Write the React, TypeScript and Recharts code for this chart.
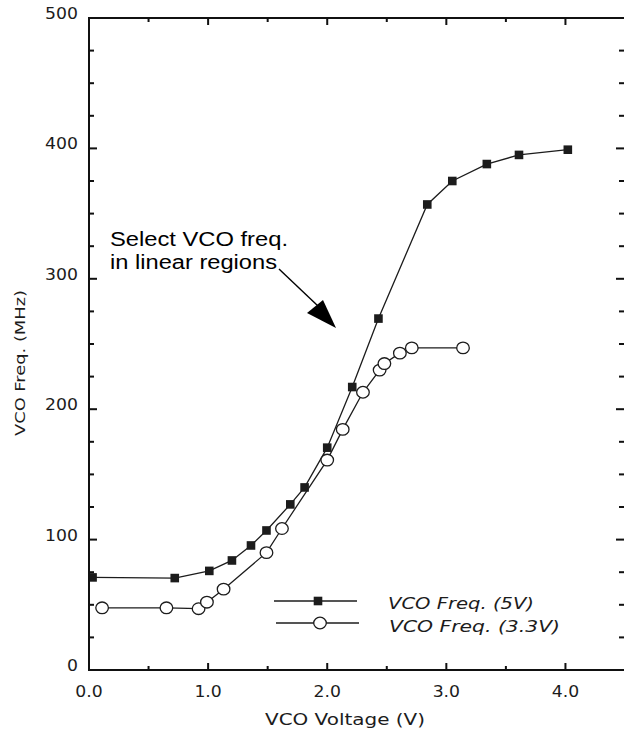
import React from "react";
import { LineChart, Line, XAxis, YAxis } from "recharts";

// VCO frequency vs. control voltage.
const VOLT_5V = [0.03, 0.72, 1.01, 1.2, 1.36, 1.49, 1.69, 1.81, 2.0, 2.21, 2.43, 2.84, 3.05, 3.34, 3.61, 4.02];
const FREQ_5V = [71, 70.5, 76, 84, 95.5, 107, 127, 140, 170.5, 217, 269.5, 357, 375, 388, 395, 399];

const VOLT_33V = [0.11, 0.65, 0.92, 0.99, 1.13, 1.49, 1.62, 2.0, 2.13, 2.3, 2.44, 2.48, 2.61, 2.71, 3.14];
const FREQ_33V = [47.7, 47.7, 47, 52, 62, 90, 108.5, 161, 184.5, 213, 230, 235, 243, 247, 247];

const X_TICKS = [0, 0.5, 1, 1.5, 2, 2.5, 3, 3.5, 4, 4.5];
const Y_TICKS = [0, 25, 50, 75, 100, 125, 150, 175, 200, 225, 250, 275, 300, 325, 350, 375, 400, 425, 450, 475, 500];

const SERIES_NAMES = ["VCO Freq. (5V)", "VCO Freq. (3.3V)"];

const data5v = VOLT_5V.map((x, i) => ({ x, y: FREQ_5V[i] }));
const data33v = VOLT_33V.map((x, i) => ({ x, y: FREQ_33V[i] }));

const X_DOMAIN: [number, number] = [0, 4.5];
const Y_DOMAIN: [number, number] = [0, 500];

// plot box shared by the chart margins and the frame overlay
const PLOT = { left: 89, top: 18, width: 536, height: 652 };
const CHART_W = PLOT.left + PLOT.width;
const CHART_H = 729;

const INK = "#1c1c1c";
const FONT = "'DejaVu Sans', sans-serif";

const isMajorX = (v: number) => Math.abs(v - Math.round(v)) < 1e-6;
const isMajorY = (v: number) => v % 100 === 0;

// tickSize/tickMargin are 0, so x/y arrive on the axis line
const bottomTick = (props: any) => {
  const { x, y, payload } = props;
  const v = Number(payload.value);
  if (!isMajorX(v)) return <g />;
  return (
    <g transform={`translate(${x},${y})`}>
      <text transform="translate(0,27) scale(1.15,1)" textAnchor="middle" fontFamily={FONT} fontSize={15} fill={INK}>
        {v.toFixed(1)}
      </text>
    </g>
  );
};

const leftTick = (props: any) => {
  const { x, y, payload } = props;
  const v = Number(payload.value);
  if (!isMajorY(v)) return <g />;
  return (
    <g transform={`translate(${x},${y})`}>
      <text transform="translate(-11,1) scale(1.15,1)" textAnchor="end" fontFamily={FONT} fontSize={15} fill={INK}>
        {v}
      </text>
    </g>
  );
};

function SquareDot({ cx, cy }: any) {
  if (cx == null || cy == null) return null;
  return <rect x={cx - 4.3} y={cy - 4.3} width={8.6} height={8.6} fill={INK} />;
}

function CircleDot({ cx, cy }: any) {
  if (cx == null || cy == null) return null;
  return <ellipse cx={cx} cy={cy} rx={6.3} ry={5.8} fill="#fff" stroke={INK} strokeWidth={1.3} />;
}

const px = (v: number) => PLOT.left + ((v - X_DOMAIN[0]) / (X_DOMAIN[1] - X_DOMAIN[0])) * PLOT.width;
const py = (v: number) => PLOT.top + PLOT.height - ((v - Y_DOMAIN[0]) / (Y_DOMAIN[1] - Y_DOMAIN[0])) * PLOT.height;

// box frame with inward tick marks on all four sides
function Frame() {
  const right = PLOT.left + PLOT.width;
  const bottom = PLOT.top + PLOT.height;
  return (
    <g fill="#111">
      <rect x={PLOT.left - 1} y={PLOT.top - 1} width={PLOT.width + 1} height={2} />
      <rect x={PLOT.left - 1} y={PLOT.top - 1} width={2} height={PLOT.height + 2} />
      <rect x={PLOT.left - 1} y={bottom - 1} width={PLOT.width + 1} height={2} />
      {X_TICKS.map((t) => {
        const len = isMajorX(t) ? 7 : 4;
        return (
          <g key={`x${t}`}>
            <rect x={px(t) - 1} y={bottom - len} width={2} height={len} />
            <rect x={px(t) - 1} y={PLOT.top} width={2} height={len} />
          </g>
        );
      })}
      {Y_TICKS.map((t) => {
        const len = isMajorY(t) ? 8 : 5;
        return (
          <g key={`y${t}`}>
            <rect x={PLOT.left} y={py(t) - 1} width={len} height={2} />
            <rect x={right - len - 1} y={py(t) - 1} width={len} height={2} />
          </g>
        );
      })}
    </g>
  );
}

function Overlay() {
  return (
    <svg width={624} height={729} style={{ position: "absolute", left: 0, top: 0, pointerEvents: "none" }}>
      <Frame />

      {/* axis titles */}
      <text x={345} y={725} textAnchor="middle" fontFamily={FONT} fontSize={15} fill={INK} textLength={160} lengthAdjust="spacingAndGlyphs">
        VCO Voltage (V)
      </text>
      <text transform="translate(25,363) rotate(-90)" textAnchor="middle" fontFamily={FONT} fontSize={14} fill={INK} textLength={146} lengthAdjust="spacingAndGlyphs">
        VCO Freq. (MHz)
      </text>

      {/* annotation */}
      <text x={110} y={246} fontFamily="'Liberation Sans', Arial, sans-serif" fontSize={20} fill="#000" textLength={178} lengthAdjust="spacingAndGlyphs">
        Select VCO freq.
      </text>
      <text x={110} y={269} fontFamily="'Liberation Sans', Arial, sans-serif" fontSize={20} fill="#000" textLength={167} lengthAdjust="spacingAndGlyphs">
        in linear regions
      </text>
      <line x1={279} y1={269} x2={318} y2={306} stroke="#000" strokeWidth={1.4} />
      <polygon points="307,313 323,300 336,328" fill="#000" />

      {/* legend */}
      <line x1={274} y1={601} x2={357} y2={601} stroke={INK} strokeWidth={1.4} />
      <SquareDot cx={318} cy={601} />
      <text x={388} y={609} fontFamily={FONT} fontStyle="italic" fontSize={16} fill={INK} textLength={146} lengthAdjust="spacingAndGlyphs">
        {SERIES_NAMES[0]}
      </text>
      <line x1={276} y1={623} x2={359} y2={623} stroke={INK} strokeWidth={1.4} />
      <CircleDot cx={320} cy={623} />
      <text x={389} y={632} fontFamily={FONT} fontStyle="italic" fontSize={16} fill={INK} textLength={171} lengthAdjust="spacingAndGlyphs">
        {SERIES_NAMES[1]}
      </text>
    </svg>
  );
}

export default function App() {
  return (
    <div style={{ position: "fixed", left: 0, top: 0, width: 624, height: 729, overflow: "hidden", background: "#fff" }}>
      <LineChart width={CHART_W} height={CHART_H} margin={{ top: PLOT.top, right: 0, bottom: 0, left: 0 }}>
        <XAxis
          type="number"
          dataKey="x"
          domain={X_DOMAIN}
          ticks={X_TICKS}
          interval={0}
          height={CHART_H - PLOT.top - PLOT.height}
          tickSize={0}
          tickMargin={0}
          tickLine={false}
          tick={bottomTick}
          axisLine={{ stroke: INK, strokeWidth: 2 }}
          allowDataOverflow
        />
        <YAxis
          type="number"
          domain={Y_DOMAIN}
          ticks={Y_TICKS}
          interval={0}
          width={PLOT.left}
          tickSize={0}
          tickMargin={0}
          tickLine={false}
          tick={leftTick}
          axisLine={{ stroke: INK, strokeWidth: 2 }}
          allowDataOverflow
        />
        <Line
          data={data5v}
          dataKey="y"
          name={SERIES_NAMES[0]}
          type="linear"
          stroke={INK}
          strokeWidth={1.3}
          dot={<SquareDot />}
          activeDot={false}
          isAnimationActive={false}
        />
        <Line
          data={data33v}
          dataKey="y"
          name={SERIES_NAMES[1]}
          type="linear"
          stroke={INK}
          strokeWidth={1.3}
          dot={<CircleDot />}
          activeDot={false}
          isAnimationActive={false}
        />
      </LineChart>
      <Overlay />
    </div>
  );
}
